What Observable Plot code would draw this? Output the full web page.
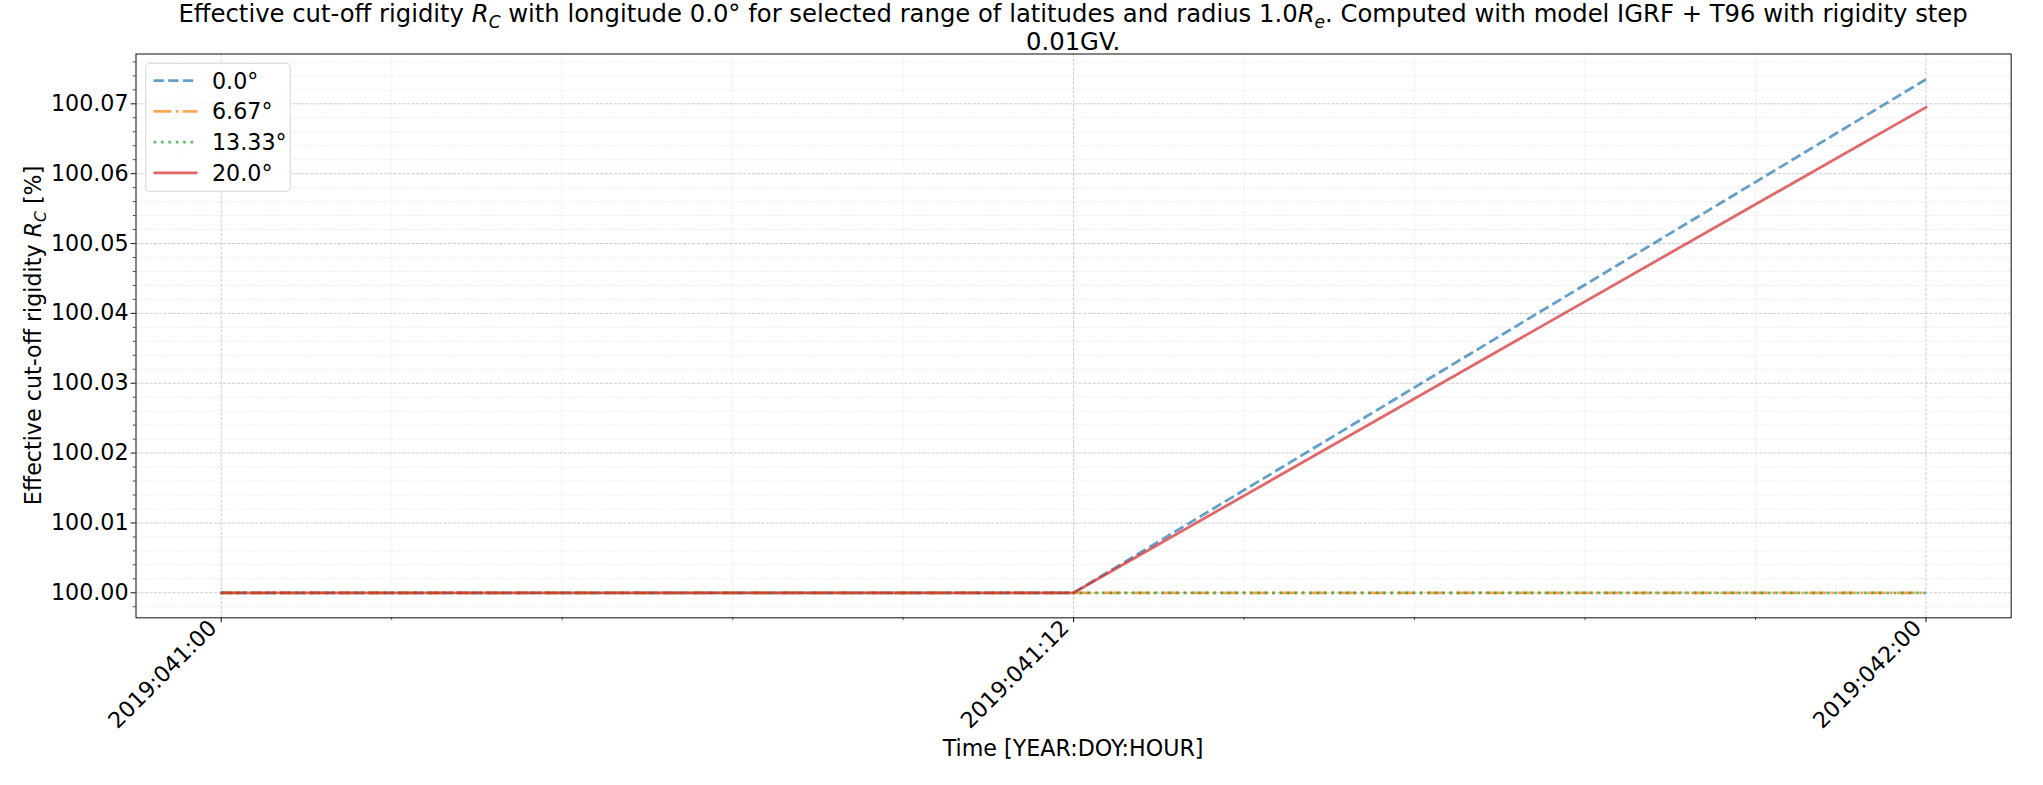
<!DOCTYPE html>
<html>
<head>
<meta charset="utf-8">
<script src="https://cdn.jsdelivr.net/npm/d3@7"></script>
<script src="https://cdn.jsdelivr.net/npm/@observablehq/plot@0.6"></script>
<style>
  html, body { margin: 0; padding: 0; background: #ffffff; }
  #chart svg { display: block; overflow: visible; }
</style>
</head>
<body>
<div id="chart"></div>
<script>
// ---------- data ----------
const times = ["2019-02-10T00:00:00Z", "2019-02-10T12:00:00Z", "2019-02-11T00:00:00Z"]; // 2019 DOY 041 00h, 12h, DOY 042 00h
const latitudes = ["0.0°", "6.67°", "13.33°", "20.0°"];
const rcLat0 = [100.0, 100.0, 100.0735];
const rcLat6_67 = [100.0, 100.0, 100.0];
const rcLat13_33 = [100.0, 100.0, 100.0];
const rcLat20 = [100.0, 100.0, 100.0695];
const xTickTimes = ["2019-02-10T00:00:00Z", "2019-02-10T12:00:00Z", "2019-02-11T00:00:00Z"];
const xTickLabels = ["2019:041:00", "2019:041:12", "2019:042:00"];
const yTicks = [100.00, 100.01, 100.02, 100.03, 100.04, 100.05, 100.06, 100.07];
const yTickLabels = ["100.00", "100.01", "100.02", "100.03", "100.04", "100.05", "100.06", "100.07"];

// ---------- styles ----------
const seriesValues = [rcLat0, rcLat6_67, rcLat13_33, rcLat20];
const colors = ["#1f77b4", "#ff7f0e", "#2ca02c", "#d62728"];
const dashes = ["10.3,4.4", "17.8,4.4,2.8,4.4", "2.8,4.6", null];
const caps = ["butt", "butt", "butt", "square"];
const LW = 2.78;
const FONT = "DejaVu Sans";
const FS = 22.2;
const TFS = 24.3;

const W = 2043, H = 785;
const mL = 135.5, mR = 32.3, mT = 53.5, mB = 167.7;

const xDates = times.map(t => new Date(t));
const rows = [];
seriesValues.forEach((vals, si) => vals.forEach((v, i) => rows.push({t: xDates[i], v, lat: latitudes[si], si})));

const majorX = xTickTimes.map(t => new Date(t));
const hour = 3600e3;
const x0 = +majorX[0];
const minorX = d3.range(-10, 11).map(k => new Date(x0 + k * 2.4 * hour))
  .filter(d => d >= new Date(x0 - 1.2 * hour) && d <= new Date(x0 + 25.2 * hour))
  .filter(d => !majorX.some(m => Math.abs(+m - +d) < 1000));
const minorY = d3.range(-1, 39).map(k => +(100 + k * 0.002).toFixed(4))
  .filter(v => v >= 99.9964 && v <= 100.0771)
  .filter(v => !yTicks.some(t => Math.abs(t - v) < 1e-6));

const marks = [
  // minor grid
  Plot.ruleX(minorX, {stroke: "#ebebeb", strokeWidth: 0.8, strokeDasharray: "3,1.5"}),
  Plot.ruleY(minorY, {stroke: "#ebebeb", strokeWidth: 0.8, strokeDasharray: "3,1.5"}),
  // major grid
  Plot.ruleX(majorX, {stroke: "#cccccc", strokeWidth: 1, strokeDasharray: "3.2,1.4"}),
  Plot.ruleY(yTicks, {stroke: "#cccccc", strokeWidth: 1, strokeDasharray: "3.2,1.4"}),
];

// series lines
latitudes.forEach((lat, si) => {
  marks.push(Plot.line(rows.filter(r => r.si === si), {
    x: "t", y: "v",
    stroke: colors[si], strokeOpacity: 0.7, strokeWidth: LW,
    strokeDasharray: dashes[si] || undefined,
    strokeLinecap: caps[si], strokeLinejoin: "round"
  }));
});

marks.push(
  Plot.frame({stroke: "#222", strokeWidth: 1.1}),
  // y axis
  Plot.axisY(yTicks, {tickSize: 4.9, tickPadding: 2.5, tickFormat: d => yTickLabels[yTicks.indexOf(d)], label: null, fontSize: FS, stroke: "#222", strokeWidth: 1.1}),
  Plot.axisY(minorY, {tickSize: 2.8, tickFormat: () => "", label: null, stroke: "#222", strokeWidth: 0.8}),
  // x axis ticks
  Plot.axisX(majorX, {tickSize: 4.9, tickFormat: () => "", label: null, stroke: "#222", strokeWidth: 1.1}),
  Plot.axisX(minorX, {tickSize: 2.8, tickFormat: () => "", label: null, stroke: "#222", strokeWidth: 0.8}),
  // rotated x tick labels
  Plot.text(majorX, {
    x: d => d, frameAnchor: "bottom",
    text: (d, i) => xTickLabels[i],
    rotate: -45, textAnchor: "end", lineAnchor: "bottom",
    dx: -3.25, dy: 11.5, fontSize: FS, fill: "#000"
  })
);

const chart = Plot.plot({
  width: W, height: H,
  marginLeft: mL, marginRight: mR, marginTop: mT, marginBottom: mB,
  style: {fontFamily: FONT, fontSize: FS + "px", color: "#000", background: "#fff"},
  x: {type: "utc", domain: [new Date(x0 - 1.2 * hour), new Date(x0 + 25.2 * hour)]},
  y: {domain: [99.99642, 100.07713]},
  marks
});

document.getElementById("chart").appendChild(chart);

// ---------- titles, axis labels, legend (text annotations) ----------
const svg = d3.select(chart);
const cx = mL + (W - mL - mR) / 2;
const cy = mT + (H - mT - mB) / 2;

function addMath(textSel, parts, fs) {
  const sh = fs * 0.21;
  let shifted = false;
  parts.forEach(p => {
    if (typeof p === "string") {
      textSel.append("tspan").attr("dy", shifted ? -sh : null).text(p);
      shifted = false;
    } else {
      textSel.append("tspan").attr("font-style", "italic").attr("dy", shifted ? -sh : null).text(p.i);
      textSel.append("tspan").attr("font-style", "italic").attr("font-size", (fs * 0.7) + "px").attr("dy", sh).text(p.sub);
      shifted = true;
    }
  });
}

const title1 = svg.append("text").attr("x", cx).attr("y", 22.4).attr("text-anchor", "middle")
  .attr("font-family", FONT).attr("font-size", TFS + "px").attr("fill", "#000");
addMath(title1, ["Effective cut-off rigidity ", {i: "R", sub: "C"}, " with longitude 0.0° for selected range of latitudes and radius 1.0", {i: "R", sub: "e"}, ". Computed with model IGRF + T96 with rigidity step"], TFS);
svg.append("text").attr("x", cx).attr("y", 49.5).attr("text-anchor", "middle")
  .attr("font-family", FONT).attr("font-size", TFS + "px").attr("fill", "#000").text("0.01GV.");

// x label
svg.append("text").attr("x", cx).attr("y", 755.7).attr("text-anchor", "middle")
  .attr("font-family", FONT).attr("font-size", FS + "px").attr("fill", "#000").text("Time [YEAR:DOY:HOUR]");

// y label
const ylab = svg.append("text").attr("transform", `translate(41.2,${cy}) rotate(-90)`).attr("text-anchor", "middle")
  .attr("font-family", FONT).attr("font-size", FS + "px").attr("fill", "#000");
addMath(ylab, ["Effective cut-off rigidity ", {i: "R", sub: "C"}, " [%]"], FS);

// legend
const lg = svg.append("g").attr("text-anchor", "start");
lg.append("rect").attr("x", 145.7).attr("y", 63.3).attr("width", 144.6).attr("height", 128)
  .attr("rx", 4).attr("fill", "#fff").attr("fill-opacity", 0.8).attr("stroke", "#d6d6d6").attr("stroke-width", 1);
latitudes.forEach((lat, i) => {
  const y = 80.7 + i * 30.7;
  lg.append("line").attr("x1", 153.5).attr("x2", 197.5).attr("y1", y).attr("y2", y)
    .attr("stroke", colors[i]).attr("stroke-opacity", 0.7).attr("stroke-width", LW)
    .attr("stroke-dasharray", dashes[i]).attr("stroke-linecap", caps[i] === "square" ? "butt" : caps[i]);
  lg.append("text").attr("x", 212).attr("y", y + 7.9).attr("text-anchor", "start").attr("font-family", FONT)
    .attr("font-size", FS + "px").attr("fill", "#000").text(lat);
});
</script>
</body>
</html>
